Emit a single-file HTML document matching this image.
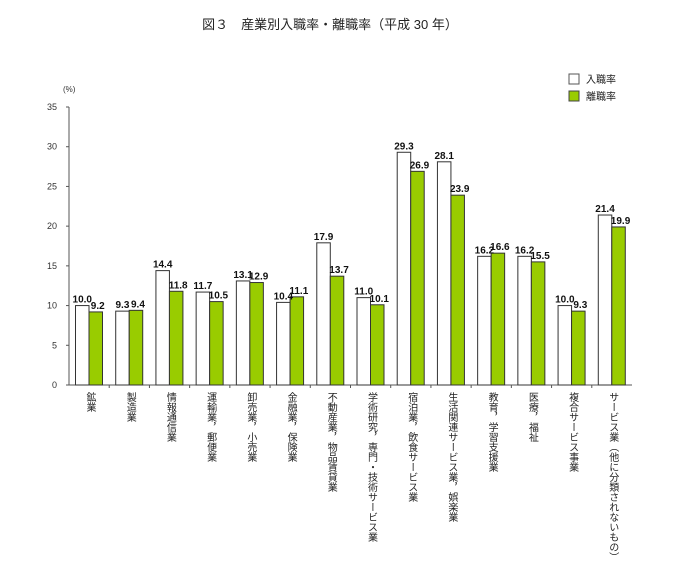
<!DOCTYPE html>
<html><head><meta charset="utf-8">
<style>
body{margin:0;background:#fff;font-family:"Liberation Sans","Noto Sans CJK JP",sans-serif;}
svg{display:block}
.vl{position:absolute;writing-mode:vertical-rl;font-size:10px;color:#222;letter-spacing:0px;line-height:10px;}
</style></head>
<body>
<div style="position:relative;width:680px;height:565px">
<svg id="c" width="680" height="565">
<text x="330" y="29" text-anchor="middle" font-size="13" fill="#222">図３　産業別入職率・離職率（平成 30 年）</text>
<text x="63" y="92" font-size="8" fill="#333">(%)</text>
<g>
<rect x="569" y="74" width="10" height="10" fill="#fff" stroke="#555"/>
<text x="586" y="83" font-size="10" fill="#222">入職率</text>
<rect x="569" y="91" width="10" height="10" fill="#99cc00" stroke="#444"/>
<text x="586" y="100" font-size="10" fill="#222">離職率</text>
</g>
</svg>
</div>
<script>
const categories=["鉱業","製造業","情報通信業","運輸業，郵便業","卸売業，小売業","金融業，保険業","不動産業，物品賃貸業","学術研究，専門・技術サービス業","宿泊業，飲食サービス業","生活関連サービス業，娯楽業","教育，学習支援業","医療，福祉","複合サービス事業","サービス業（他に分類されないもの）"];
const entryRate=[10.0,9.3,14.4,11.7,13.1,10.4,17.9,11.0,29.3,28.1,16.2,16.2,10.0,21.4];
const exitRate=[9.2,9.4,11.8,10.5,12.9,11.1,13.7,10.1,26.9,23.9,16.6,15.5,9.3,19.9];
const yTicks=[0,5,10,15,20,25,30,35];

const svg=document.getElementById('c');
const NS='http://www.w3.org/2000/svg';
const x0=69,x1=632,y0=385,yTop=107,yMax=35;
const pitch=(x1-x0)/categories.length;
const bw=13.5;
const y=v=>y0-(y0-yTop)*v/yMax;
const gx=i=>x0+i*pitch+6.5;
function mk(tag,attrs){const e=document.createElementNS(NS,tag);for(const k in attrs)e.setAttribute(k,attrs[k]);svg.appendChild(e);return e;}

let ax=mk('line',{x1:x0,y1:yTop,x2:x0,y2:y0,stroke:'#555'});


let bx=mk('line',{x1:x0,y1:y0,x2:x1,y2:y0,stroke:'#555'});


yTicks.forEach(t=>{
  let tk=mk('line',{x1:x0-3,y1:y(t),x2:x0,y2:y(t),stroke:'#555'});
  
  
  let tl=mk('text',{x:x0-12,y:y(t)+3,'font-size':9,'text-anchor':'end',fill:'#333'});
  tl.textContent=t;
  
  
});
categories.forEach((c,i)=>{
  if(i>0){let t=mk('line',{x1:x0+i*pitch,y1:y0,x2:x0+i*pitch,y2:y0+3,stroke:'#555'});
  
  }
  const a=gx(i),b=gx(i)+bw;
  let r1=mk('rect',{x:a,y:y(entryRate[i]),width:bw,height:y0-y(entryRate[i]),fill:'#fff',stroke:'#333','stroke-width':1});
  
  
  let r2=mk('rect',{x:b,y:y(exitRate[i]),width:bw,height:y0-y(exitRate[i]),fill:'#99cc00',stroke:'#333','stroke-width':1});
  
  
  let l1=mk('text',{x:a+bw/2,y:y(entryRate[i])-3,'font-size':10,'font-weight':'bold','text-anchor':'middle',fill:'#111'});
  l1.textContent=entryRate[i].toFixed(1);
  
  
  let l2=mk('text',{x:b+bw/2+2,y:y(exitRate[i])-3,'font-size':10,'font-weight':'bold','text-anchor':'middle',fill:'#111'});
  l2.textContent=exitRate[i].toFixed(1);
  
  
  const d=document.createElement('div');
  d.className='vl';
  d.style.left=(a+bw-5)+'px';
  d.style.top='392px';
  d.textContent=c;
  
  
  svg.parentNode.appendChild(d);
});
</script>
</body></html>
